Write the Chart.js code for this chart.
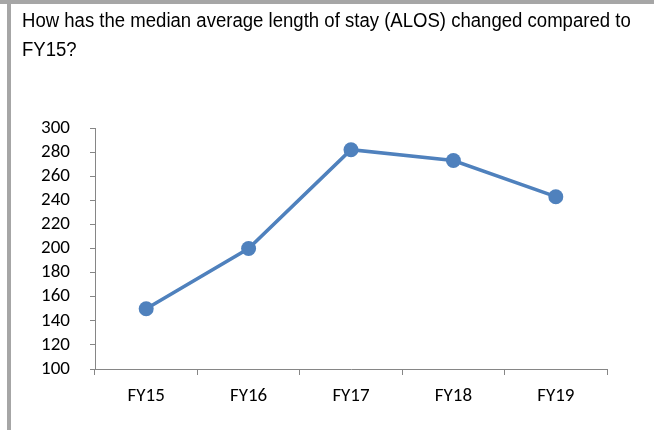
<!DOCTYPE html>
<html>
<head>
<meta charset="utf-8">
<script src="https://cdn.jsdelivr.net/npm/chart.js@4/dist/chart.umd.min.js"></script>
<style>
  body { margin: 0; background: #fff; }
  #wrap { position: relative; width: 654px; height: 430px; overflow: hidden; }
  .bar-top { position: absolute; left: 0; top: 0; width: 654px; height: 4px; background: #a6a6a6; }
  .bar-left { position: absolute; left: 7px; top: 0; width: 4px; height: 430px; background: #a6a6a6; }
  #title {
    position: absolute; left: 22px; top: 6px; width: 700px;
    font-family: "Liberation Sans Narrow", "Arial Narrow", "Liberation Sans", sans-serif;
    font-size: 20px; line-height: 29px; color: #000;
    transform: scaleX(0.928); transform-origin: left top; white-space: nowrap;
  }
  canvas { position: absolute; left: 0; top: 0; }
</style>
</head>
<body>
<div id="wrap">
  <canvas id="chart" width="654" height="430"></canvas>
  <div class="bar-top"></div>
  <div class="bar-left"></div>
  <div id="title">How has the median average length of stay (ALOS) changed compared to<br>FY15?</div>
</div>
<script>
// values
const years = ['FY15', 'FY16', 'FY17', 'FY18', 'FY19'];
const medianAlos = [150, 200, 282, 273, 243];
const yMin = 100;
const yMax = 300;
const yStep = 20;

const axisGrey = '#868686';
const lineBlue = '#4f81bd';
const tickFont = {family: 'Carlito, Lato, sans-serif', size: 19, lineHeight: 1};

const chart = new Chart('chart', {
  type: 'line',
  data: {
    labels: years,
    datasets: [{
      data: medianAlos,
      borderColor: lineBlue,
      backgroundColor: lineBlue,
      borderWidth: 3.5,
      pointRadius: 7.5,
      pointHoverRadius: 7.5,
      pointBorderWidth: 0,
      tension: 0,
    }],
  },
  options: {
    responsive: false,
    animation: false,
    layout: {padding: {top: 128, right: 47, bottom: 0, left: 0}},
    plugins: {legend: {display: false}, tooltip: {enabled: false}},
    scales: {
      x: {
        offset: true,
        grid: {offset: true, drawOnChartArea: false, color: axisGrey, tickLength: 6},
        border: {color: axisGrey, width: 1},
        ticks: {color: '#000', font: tickFont, padding: 12, maxRotation: 0, autoSkip: false},
        afterFit: (scale) => { scale.height = 61; },
      },
      y: {
        min: yMin,
        max: yMax,
        grid: {drawOnChartArea: false, color: axisGrey, tickLength: 5},
        border: {color: axisGrey, width: 1},
        ticks: {stepSize: yStep, color: '#000', font: tickFont, padding: 20, autoSkip: false},
        afterFit: (scale) => { scale.width = 95; },
      },
    },
  },
});
</script>
</body>
</html>
